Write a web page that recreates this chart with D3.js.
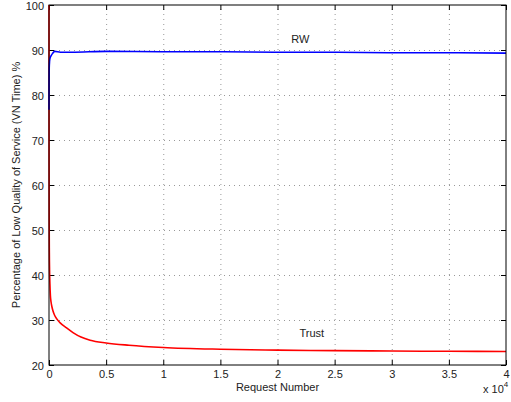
<!DOCTYPE html>
<html>
<head>
<meta charset="utf-8">
<script src="https://d3js.org/d3.v7.min.js"></script>
<style>
  body { margin: 0; background: #fff; }
  svg text { font-family: Arial, "Liberation Sans", sans-serif; fill: #222; }
  .tick text { font-size: 11px; }
  .grid line { stroke: #999; stroke-dasharray: 1,4; }
  .domain { display: none; }
</style>
</head>
<body>
<svg width="511" height="402"></svg>
<script>
// x in units of 10^4 requests
const trustX = [0, 0.0003, 0.0008, 0.0015, 0.003, 0.005, 0.008, 0.012, 0.018, 0.025, 0.035, 0.05, 0.07, 0.1, 0.15, 0.21, 0.28, 0.36, 0.5, 0.7, 1.0, 1.5, 2.0, 2.5, 3.0, 3.5, 4.0];
const trustY = [100, 75, 62, 52, 45, 41, 38, 35.5, 34, 33, 32, 31, 30.2, 29.3, 28.3, 27.2, 26.2, 25.5, 24.9, 24.4, 23.9, 23.5, 23.3, 23.2, 23.1, 23.05, 23.0];
const rwX = [0, 0.0005, 0.002, 0.005, 0.01, 0.02, 0.03, 0.05, 0.1, 0.2, 0.5, 1.0, 1.5, 2.0, 2.5, 3.0, 3.5, 4.0];
const rwY = [76.7, 82, 86, 87.5, 88.3, 88.8, 89.2, 89.7, 89.5, 89.5, 89.7, 89.6, 89.6, 89.5, 89.5, 89.4, 89.4, 89.3];
const xTicks = [0, 0.5, 1, 1.5, 2, 2.5, 3, 3.5, 4];
const yTicks = [20, 30, 40, 50, 60, 70, 80, 90, 100];

const margin = { left: 49, right: 5, top: 5, bottom: 37 };
const svg = d3.select('svg');
const width = +svg.attr('width');
const height = +svg.attr('height');
const innerWidth = width - margin.left - margin.right;
const innerHeight = height - margin.top - margin.bottom;
const g = svg.append('g').attr('transform', `translate(${margin.left},${margin.top})`);

const xScale = d3.scaleLinear().domain([0, 4]).range([0, innerWidth]);
const yScale = d3.scaleLinear().domain([20, 100]).range([innerHeight, 0]);
const fmt = d3.format('~g');

// dotted grid
g.append('g').attr('class', 'grid')
  .attr('transform', `translate(0,${innerHeight})`)
  .call(d3.axisBottom(xScale).tickValues(xTicks.slice(1, -1)).tickSize(-innerHeight));
g.append('g').attr('class', 'grid')
  .call(d3.axisLeft(yScale).tickValues(yTicks.slice(1, -1)).tickSize(-innerWidth));
g.selectAll('.grid text').remove();

// axes with inward ticks
const bottomAx = g.append('g').attr('class', 'axis')
  .attr('transform', `translate(0,${innerHeight})`)
  .call(d3.axisBottom(xScale).tickValues(xTicks).tickSize(-5).tickFormat(fmt));
bottomAx.selectAll('text').attr('dy', null).attr('y', 13);
const leftAx = g.append('g').attr('class', 'axis')
  .call(d3.axisLeft(yScale).tickValues(yTicks).tickSize(-5).tickPadding(5).tickFormat(fmt));
leftAx.selectAll('text').attr('dy', null).attr('y', 4);
const topAx = g.append('g').attr('class', 'axis')
  .call(d3.axisTop(xScale).tickValues(xTicks).tickSize(-5));
const rightAx = g.append('g').attr('class', 'axis')
  .attr('transform', `translate(${innerWidth},0)`)
  .call(d3.axisRight(yScale).tickValues(yTicks).tickSize(-5));
topAx.selectAll('text').remove();
rightAx.selectAll('text').remove();
g.selectAll('.axis .tick line').attr('stroke', '#000');
g.selectAll('.grid .tick line').attr('stroke', '#999');

const line = d3.line().x(d => xScale(d[0])).y(d => yScale(d[1])).curve(d3.curveMonotoneX);

g.append('path')
  .attr('fill', 'none').attr('stroke', '#ff0000').attr('stroke-width', 1.6)
  .attr('d', line(d3.zip(trustX, trustY)));
g.append('path')
  .attr('fill', 'none').attr('stroke', '#0000ff').attr('stroke-width', 1.6)
  .attr('d', line(d3.zip(rwX, rwY)));

// frame
g.append('rect').attr('width', innerWidth).attr('height', innerHeight)
  .attr('fill', 'none').attr('stroke', '#000').attr('stroke-width', 1);

// in-plot labels
g.append('text').attr('x', xScale(2.2)).attr('y', yScale(91.5))
  .attr('font-size', 11).attr('text-anchor', 'middle').text('RW');
g.append('text').attr('x', xScale(2.3)).attr('y', yScale(26.3))
  .attr('font-size', 11).attr('text-anchor', 'middle').text('Trust');

// axis labels
svg.append('text').attr('x', margin.left + xScale(2)).attr('y', 391)
  .attr('font-size', 11).attr('text-anchor', 'middle').text('Request Number');
const exp = svg.append('text').attr('x', 483).attr('y', 393).attr('font-size', 11);
exp.append('tspan').text('x 10');
exp.append('tspan').attr('dy', -6).attr('font-size', 8).text('4');
svg.append('text')
  .attr('transform', `translate(20,${margin.top + innerHeight / 2}) rotate(-90)`)
  .attr('font-size', 11).attr('text-anchor', 'middle')
  .text('Percentage of Low Quality of Service (VN Time) %');
</script>
</body>
</html>
